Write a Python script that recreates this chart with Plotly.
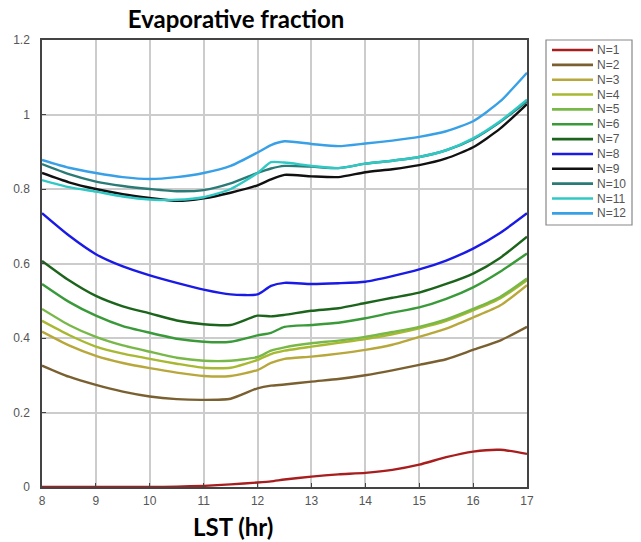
import plotly.graph_objects as go

hours = [8, 8.5, 9, 9.5, 10, 10.5, 11, 11.5, 12, 12.25, 12.5, 13, 13.5, 14, 14.5, 15, 15.5, 16, 16.5, 17]

n1 = [0, 0, 0, 0, 0, 0.001, 0.003, 0.007, 0.012, 0.015, 0.02, 0.028, 0.034, 0.038, 0.046, 0.06, 0.08, 0.095, 0.10, 0.089]
n2 = [0.326, 0.296, 0.274, 0.256, 0.243, 0.236, 0.234, 0.237, 0.265, 0.272, 0.275, 0.283, 0.29, 0.30, 0.313, 0.328, 0.343, 0.368, 0.393, 0.43]
n3 = [0.417, 0.38, 0.352, 0.333, 0.319, 0.307, 0.298, 0.298, 0.314, 0.333, 0.344, 0.35, 0.358, 0.368, 0.382, 0.403, 0.425, 0.455, 0.487, 0.542]
n4 = [0.446, 0.408, 0.377, 0.358, 0.344, 0.331, 0.32, 0.32, 0.341, 0.357, 0.366, 0.377, 0.387, 0.397, 0.41, 0.426, 0.446, 0.474, 0.506, 0.555]
n5 = [0.478, 0.435, 0.403, 0.38, 0.363, 0.347, 0.339, 0.339, 0.349, 0.366, 0.375, 0.386, 0.393, 0.403, 0.416, 0.43, 0.45, 0.478, 0.51, 0.56]
n6 = [0.545, 0.497, 0.46, 0.432, 0.414, 0.398, 0.39, 0.39, 0.407, 0.414, 0.43, 0.435, 0.441, 0.453, 0.468, 0.482, 0.505, 0.536, 0.578, 0.627]
n7 = [0.607, 0.555, 0.513, 0.485, 0.466, 0.447, 0.437, 0.435, 0.46, 0.458, 0.462, 0.473, 0.48, 0.494, 0.508, 0.522, 0.545, 0.573, 0.615, 0.672]
n8 = [0.735, 0.675, 0.625, 0.592, 0.568, 0.548, 0.53, 0.517, 0.517, 0.54, 0.548, 0.545, 0.547, 0.551, 0.566, 0.584, 0.608, 0.64, 0.682, 0.735]
n9 = [0.843, 0.818, 0.80, 0.786, 0.776, 0.768, 0.775, 0.79, 0.81, 0.826, 0.838, 0.834, 0.832, 0.845, 0.853, 0.864, 0.882, 0.912, 0.962, 1.028]
n10 = [0.867, 0.84, 0.82, 0.808, 0.80, 0.794, 0.797, 0.815, 0.843, 0.855, 0.862, 0.86, 0.856, 0.868, 0.876, 0.886, 0.904, 0.934, 0.98, 1.035]
n11 = [0.824, 0.805, 0.793, 0.78, 0.772, 0.771, 0.778, 0.80, 0.843, 0.872, 0.871, 0.862, 0.856, 0.868, 0.876, 0.886, 0.904, 0.936, 0.982, 1.04]
n12 = [0.878, 0.857, 0.843, 0.832, 0.827, 0.832, 0.843, 0.862, 0.898, 0.918, 0.928, 0.921, 0.915, 0.922, 0.93, 0.94, 0.955, 0.982, 1.035, 1.112]

series_names = ["N=1", "N=2", "N=3", "N=4", "N=5", "N=6", "N=7", "N=8", "N=9", "N=10", "N=11", "N=12"]
series_values = [n1, n2, n3, n4, n5, n6, n7, n8, n9, n10, n11, n12]
series_colors = ["#a81e1e", "#7a6030", "#b8a83c", "#a8b830", "#78b848", "#3a9a3a", "#1c641c",
                 "#1a1ae6", "#111111", "#2a7a76", "#30c8c4", "#38a0e6"]

x_ticks = [8, 9, 10, 11, 12, 13, 14, 15, 16, 17]
y_ticks = [0, 0.2, 0.4, 0.6, 0.8, 1.0, 1.2]
y_tick_labels = ["0", "0.2", "0.4", "0.6", "0.8", "1", "1.2"]

# layout geometry (pixels)
W, H = 641, 542
ML, MR, MT, MB = 42, 114, 40, 55
PW, PH = W - ML - MR, H - MT - MB


def px_x(px):
    return (px - ML) / PW


def px_y(py):
    return (H - MB - py) / PH


fig = go.Figure()
for name, vals, col in zip(series_names, series_values, series_colors):
    fig.add_trace(go.Scatter(x=hours, y=vals, mode="lines", name=name, showlegend=False,
                             line=dict(color=col, width=2.4, shape="spline", smoothing=0.6)))

axis_common = dict(showgrid=True, gridcolor="#cccccc", gridwidth=2,
                   showline=True, linecolor="#444444", linewidth=1.5, mirror=True,
                   zeroline=False, tickfont=dict(family="Liberation Sans", size=12, color="#555555"),
                   ticks="inside", ticklen=4, tickcolor="#444444")

fig.update_xaxes(range=[8, 17], tickvals=x_ticks, ticklabelstandoff=2, **axis_common)
fig.update_yaxes(range=[0, 1.2], tickvals=y_ticks, ticktext=y_tick_labels, ticklabelstandoff=8,
                 **axis_common)

shapes = []
annotations = []

# legend box
shapes.append(dict(type="rect", xref="paper", yref="paper",
                   x0=px_x(546), x1=px_x(632), y0=px_y(225), y1=px_y(40),
                   line=dict(color="#888888", width=1.2), fillcolor="white", layer="above"))
for i, (name, col) in enumerate(zip(series_names, series_colors)):
    yy = 50 + i * 14.85
    shapes.append(dict(type="line", xref="paper", yref="paper",
                       x0=px_x(552), x1=px_x(593), y0=px_y(yy), y1=px_y(yy),
                       line=dict(color=col, width=2.6), layer="above"))
    annotations.append(dict(text=name, xref="paper", yref="paper", x=px_x(595), y=px_y(yy),
                            xanchor="left", yanchor="middle", showarrow=False,
                            font=dict(family="Liberation Sans", size=12, color="#555555")))

# x-axis title
annotations.append(dict(text="<b>LST (hr)</b>", xref="paper", yref="paper",
                        x=px_x(233), y=px_y(526), xanchor="center", yanchor="middle",
                        showarrow=False, font=dict(family="Lato", size=24, color="#000000")))

fig.update_layout(
    width=W, height=H,
    margin=dict(l=ML, r=MR, t=MT, b=MB),
    paper_bgcolor="white", plot_bgcolor="white",
    title=dict(text="<b>Evaporative fraction</b>", x=236 / W, xanchor="center",
               y=1 - 20 / H, yanchor="middle", font=dict(family="Lato", size=24, color="#000000")),
    showlegend=False,
    shapes=shapes,
    annotations=annotations,
)

fig.write_html("out.html")
